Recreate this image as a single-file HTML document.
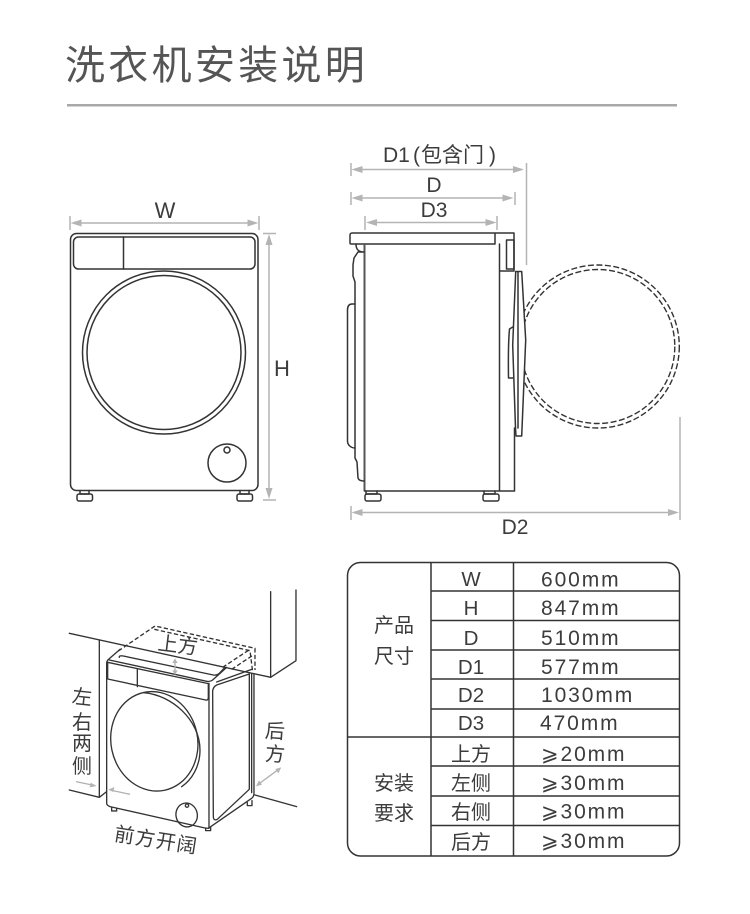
<!DOCTYPE html>
<html lang="zh"><head><meta charset="utf-8"><title>洗衣机安装说明</title>
<style>
html,body{margin:0;padding:0;background:#fff}
svg{display:block}
text{font-family:"Liberation Sans","Noto Sans CJK SC",sans-serif;fill:#3c3c3c}
.l{fill:none;stroke:#333;stroke-width:1.5;stroke-linejoin:round;stroke-linecap:round}
.d{fill:none;stroke:#b4b4b4;stroke-width:1.5}
.a{fill:#b4b4b4}
.t{fill:none;stroke:#333;stroke-width:1.5}
.m{text-anchor:middle}
.z{fill:none;stroke:#333;stroke-width:4;stroke-linejoin:round;stroke-linecap:round}
.dash{stroke-dasharray:13 7;stroke-linecap:butt}
.c{fill:none;stroke:#333;stroke-width:1.4;stroke-dasharray:6 2.500}
</style></head><body>
<svg width="750" height="914" viewBox="0 0 750 914" xmlns="http://www.w3.org/2000/svg">
<defs><clipPath id="cp"><rect x="524.500" y="250" width="170" height="190"/></clipPath></defs>
<rect width="750" height="914" fill="#fff"/>
<text x="65" y="79" font-size="40" letter-spacing="3.300" style="fill:#555">洗衣机安装说明</text>
<rect x="67" y="104" width="610" height="2.500" fill="#a8a8a8"/>

<!-- front view -->
<g>
<path class="d" d="M70 216V230M259 216V230M76 223H253M263 233.500H276M263 500H276M269 240V493"/>
<path class="a" d="M70.500 223l11-3.500v7zM258.500 223l-11-3.500v7zM269 234l-3.500 11h7zM269 499l-3.500-11h7z"/>
<rect class="l" x="70.500" y="233.500" width="187.500" height="257" rx="6"/>
<rect class="l" x="73.500" y="237" width="181.500" height="32" rx="5"/>
<path class="l" d="M123.500 237V269"/>
<circle class="l" cx="164" cy="352.500" r="81.500"/>
<circle class="l" cx="164" cy="352.500" r="77"/>
<circle class="l" cx="227" cy="463" r="19"/>
<circle class="l" cx="227" cy="450" r="3"/>
<path class="l" d="M80 490.500v3.500h9v-3.500M240 490.500v3.500h9v-3.500"/>
<rect class="l" x="77" y="494" width="15.500" height="7" rx="2"/>
<rect class="l" x="237" y="494" width="15.500" height="7" rx="2"/>
</g>
<text class="m" x="165" y="218" font-size="22">W</text>
<text class="m" x="282" y="376" font-size="22">H</text>

<!-- side view -->
<g>
<path class="d" d="M351 163V176M526.500 163V265M351 192V205M515 192V205M365 216V230M497 216V230M351 506V520M680 417V520M357 169.500H522M357 198H510M371 222.500H491M357 512.500H674"/>
<path class="a" d="M351.500 169.500l11-3.500v7zM524 169.500l-11-3.500v7zM351.500 198l11-3.500v7zM513.500 198l-11-3.500v7zM366 222.500l11-3.500v7zM496.500 222.500l-11-3.500v7zM351.500 512.500l11-3.500v7zM679 512.500l-11-3.500v7z"/>
<path class="l" d="M495 233H514V271H500M352 233H495M352 233a2 2 0 0 0-2 2V243a1 1 0 0 0 1 1H495V233"/>
<rect class="l" x="506.500" y="240" width="7.500" height="29"/>
<path d="M364.500 244V491" fill="none" stroke="#555" stroke-width="2"/>
<path class="l" d="M364.500 491H499.500V244M499.500 271V491H514.500V428"/>
<path class="l" d="M515.700 271.500H521.700L525.700 340L521.700 436H516L515.500 428L512.700 345Z"/>
<path class="l" d="M518 272V428M512.700 327L509.500 329Q508 345 508.500 378H513"/>
<path class="l" d="M356 244C356 249 358 252 364 252H358L354 258L353 265V276L355 282V458L357 462L358 478Q359 481 364 481"/>
<path class="l" d="M355 304H352C349 304 347.500 306 347.500 310V441C347.500 445 351 448 355 448"/>
<path class="l" d="M366 491v3h11v-3M484 491v3h11v-3"/>
<rect class="l" x="365" y="494" width="16" height="7" rx="2"/>
<rect class="l" x="483" y="494" width="16" height="7" rx="2"/>
<g clip-path="url(#cp)">
<circle class="c" cx="597.800" cy="346.500" r="81.500"/>
<circle class="c" cx="597.800" cy="346.500" r="77"/>
</g>
</g>
<g font-size="21">
<text x="383" y="162">D1</text>
<text x="413" y="162">(</text>
<text x="421" y="162">包含门</text>
<text x="489" y="162">)</text>
</g>
<text class="m" x="434" y="192" font-size="21">D</text>
<text class="m" x="434" y="217" font-size="21">D3</text>
<text class="m" x="515" y="534" font-size="21">D2</text>

<!-- perspective view -->
<g transform="translate(60 580) scale(.3333)">
<path class="z" d="M632 292L708 242V30M632 292V35M118 180V652M28 630L118 652L140 635M585 645L710 680"/>
<path class="z" d="M28 160L632 292"/>
<path class="z" d="M140 660V250Q140 242 148 236L180 208"/>
<path class="z" d="M148 240L440 304Q450 306 458 300L500 262"/>
<path class="z" d="M178 232Q176 226 190 228L460 285Q470 287 478 280L495 262"/>
<path class="z" d="M470 306L575 268"/>
<path class="z" d="M143 247L445 311V352Q445 362 437 360L143 297ZM232 266V320M447 310V745"/>
<path class="z" d="M140 660V670Q140 676 150 680L430 743Q437 745 445 745L575 655Q582 650 582 640V282M575 282V638"/>
<path class="z" d="M458 335Q458 322 470 315L568 282V628L472 718Q460 724 460 708Z"/>
<ellipse class="z" cx="283" cy="484" rx="130" ry="150" transform="rotate(-12 283 484)"/>
<path class="z" d="M252 338C335 345 420 420 420 510C420 560 395 600 365 620"/>
<ellipse class="z" cx="380" cy="705" rx="32" ry="36" transform="rotate(-12 380 705)"/>
<circle class="z" cx="381" cy="677" r="5"/>
<path class="z" d="M155 683V693H170V686M437 745V752H452V742M562 668V677H576V662"/>
<path class="z dash" d="M175 213L285 138L585 205V270M283 148L570 212L578 275M488 262L570 208M515 268L580 225"/>
<path d="M345 238V282M48 605L105 617M210 643L150 630M660 565L592 615" fill="none" stroke="#b0b0b0" stroke-width="4"/>
<path class="a" d="M345 235l-8 14h16zM345 285l-8-14h16zM110 618l-18-10-3 14zM145 629l18-8-3 15zM588 619l18-5-9-13zM664 562l-18 5 9 13z"/>
</g>
<text class="m" transform="translate(177 652) rotate(7)" font-size="20">上方</text>
<g font-size="20">
<text class="m" x="82" y="704" transform="rotate(6 82 697)">左</text>
<text class="m" x="82" y="729">右</text>
<text class="m" x="82" y="750">两</text>
<text class="m" x="82" y="773">侧</text>
<text class="m" x="275" y="738" transform="rotate(4 274 730)">后</text>
<text class="m" x="275" y="761" transform="rotate(4 274 755)">方</text>
</g>
<text class="m" transform="translate(155 847) rotate(9)" font-size="20" letter-spacing="1">前方开阔</text>

<!-- table -->
<rect class="t" x="347.500" y="562.500" width="332" height="293.500" rx="13"/>
<path class="t" d="M431 562.500V856M513.500 562.500V856M431 591H680M431 620.500H680M431 650H680M431 679H680M431 709H680M347.500 737H680M431 766H680M431 796H680M431 825.500H680"/>
<g font-size="20.500">
<text class="m" x="471" y="586">W</text>
<text class="m" x="471" y="615">H</text>
<text class="m" x="471" y="645">D</text>
<text class="m" x="471" y="674">D1</text>
<text class="m" x="471" y="702">D2</text>
<text class="m" x="471" y="730">D3</text>
<text class="m" x="471" y="761" font-size="20">上方</text>
<text class="m" x="471" y="790" font-size="20">左侧</text>
<text class="m" x="471" y="819" font-size="20">右侧</text>
<text class="m" x="471" y="849" font-size="20">后方</text>
</g>
<g font-size="21" letter-spacing="1.900">
<text x="541" y="586.500">600mm</text>
<text x="541" y="615">847mm</text>
<text x="541" y="645">510mm</text>
<text x="541" y="674">577mm</text>
<text x="541" y="702">1030mm</text>
<text x="540" y="730">470mm</text>
<text x="541" y="761">⩾20mm</text>
<text x="541" y="790">⩾30mm</text>
<text x="541" y="818.500">⩾30mm</text>
<text x="541" y="848">⩾30mm</text>
</g>
<g font-size="20">
<text class="m" x="394" y="632">产品</text>
<text class="m" x="394" y="663">尺寸</text>
<text class="m" x="394" y="790">安装</text>
<text class="m" x="394" y="820">要求</text>
</g>
</svg>
</body></html>
